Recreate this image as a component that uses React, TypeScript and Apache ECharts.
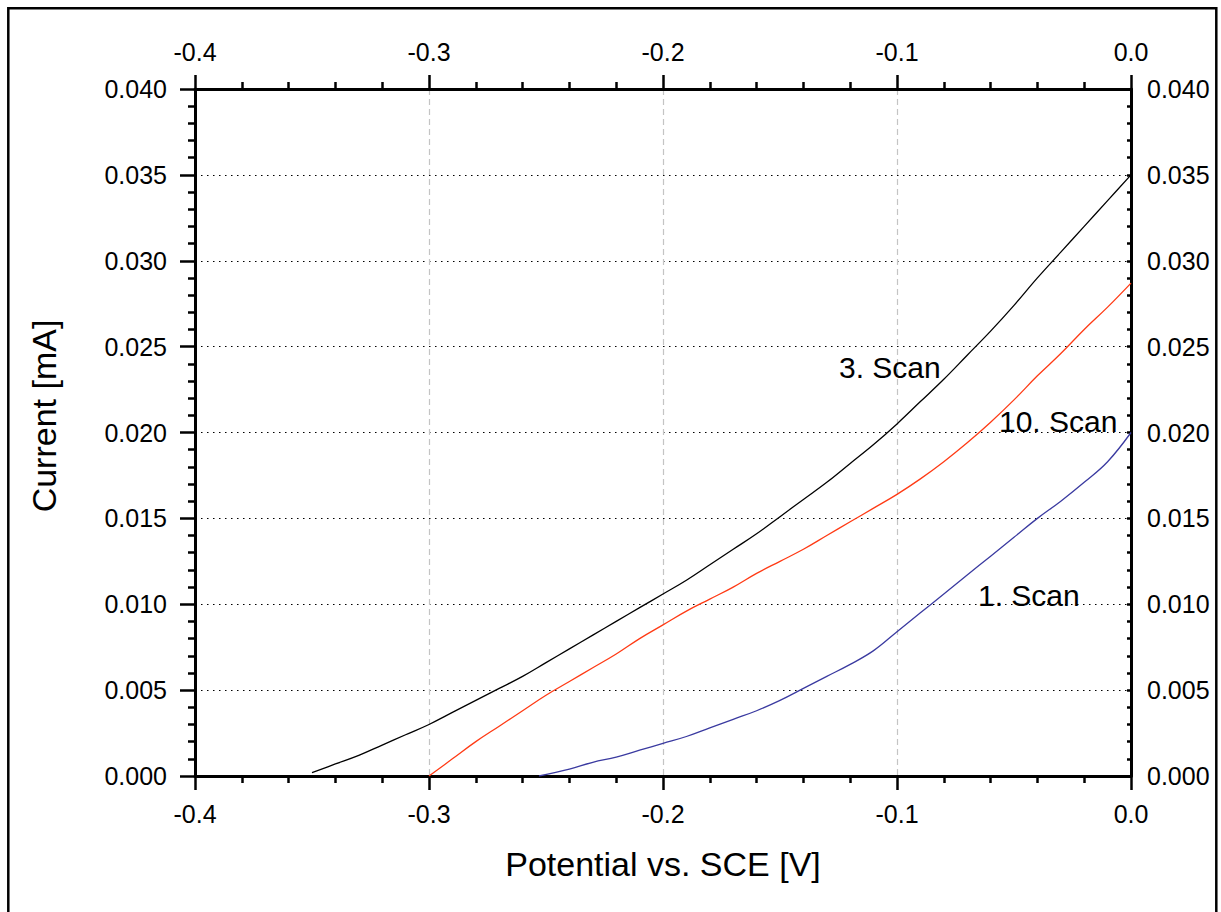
import React, { useEffect, useRef } from "react";
import * as echarts from "echarts";

// 3. Scan (black)
const scan3X = [-0.35, -0.34, -0.33, -0.32, -0.31, -0.3, -0.29, -0.28, -0.27, -0.26, -0.25, -0.24, -0.23, -0.22, -0.21, -0.2, -0.19, -0.18, -0.17, -0.16, -0.15, -0.14, -0.13, -0.12, -0.11, -0.1, -0.09, -0.08, -0.07, -0.06, -0.05, -0.04, -0.03, -0.02, -0.01, 0.0];
const scan3Y = [0.0002, 0.0007, 0.0012, 0.0018, 0.0024, 0.003, 0.0037, 0.0044, 0.0051, 0.0058, 0.0066, 0.0074, 0.0082, 0.009, 0.0098, 0.0106, 0.0114, 0.0123, 0.0132, 0.0141, 0.0151, 0.0161, 0.0171, 0.0182, 0.0193, 0.0205, 0.0218, 0.0231, 0.0245, 0.0259, 0.0274, 0.029, 0.0305, 0.032, 0.0335, 0.035];

// 10. Scan (red)
const scan10X = [-0.3, -0.29, -0.28, -0.27, -0.26, -0.25, -0.24, -0.23, -0.22, -0.21, -0.2, -0.19, -0.18, -0.17, -0.16, -0.15, -0.14, -0.13, -0.12, -0.11, -0.1, -0.09, -0.08, -0.07, -0.06, -0.05, -0.04, -0.03, -0.02, -0.01, 0.0];
const scan10Y = [0.0, 0.001, 0.002, 0.0029, 0.0038, 0.0047, 0.0055, 0.0063, 0.0071, 0.008, 0.0088, 0.0096, 0.0103, 0.011, 0.0118, 0.0125, 0.0132, 0.014, 0.0148, 0.0156, 0.0164, 0.0173, 0.0183, 0.0194, 0.0206, 0.0219, 0.0233, 0.0246, 0.026, 0.0273, 0.0287];

// 1. Scan (blue)
const scan1X = [-0.253, -0.24, -0.23, -0.22, -0.21, -0.2, -0.19, -0.18, -0.17, -0.16, -0.15, -0.14, -0.13, -0.12, -0.11, -0.1, -0.09, -0.08, -0.07, -0.06, -0.05, -0.04, -0.03, -0.02, -0.01, 0.0];
const scan1Y = [0.0, 0.0004, 0.0008, 0.0011, 0.0015, 0.0019, 0.0023, 0.0028, 0.0033, 0.0038, 0.0044, 0.0051, 0.0058, 0.0065, 0.0073, 0.0084, 0.0095, 0.0106, 0.0117, 0.0128, 0.0139, 0.015, 0.016, 0.0171, 0.0183, 0.02];

const seriesNames = ["3. Scan", "10. Scan", "1. Scan"];
const xTitle = "Potential vs. SCE [V]";
const yTitle = "Current [mA]";

const pairs = (xs: number[], ys: number[]) => xs.map((x, i) => [x, ys[i]]);

const FONT = "'Liberation Sans', Arial, Helvetica, sans-serif";

export default function App() {
  const ref = useRef<HTMLDivElement>(null);
  useEffect(() => {
    if (!ref.current) return;
    const chart = echarts.init(ref.current, null, { renderer: "svg" });
    const axisLine = { show: true, onZero: false, lineStyle: { color: "#000", width: 3 } };
    const labelStyle = { color: "#000", fontSize: 25, fontFamily: FONT };
    const xBase = {
      type: "value" as const,
      min: -0.4,
      max: 0,
      interval: 0.1,
      axisLine,
      minorTick: { show: true, splitNumber: 5, length: 7, lineStyle: { color: "#000", width: 2.5 } },
      axisTick: { show: true, length: 14, lineStyle: { color: "#000", width: 2.5 } },
    };
    const yBase = {
      type: "value" as const,
      min: 0,
      max: 0.04,
      interval: 0.005,
      axisLine,
    };
    chart.setOption({
      animation: false,
      backgroundColor: "#fff",
      grid: { left: 195, top: 89, width: 936, height: 687, containLabel: false },
      xAxis: [
        {
          ...xBase,
          position: "bottom",
          axisLabel: { ...labelStyle, margin: 25, formatter: (v: number) => v.toFixed(1) },
          splitLine: { show: true, lineStyle: { color: "#c4c4c4", width: 1.2, type: [6, 4] } },
        },
        {
          ...xBase,
          position: "top",
          axisLabel: { ...labelStyle, margin: 25, formatter: (v: number) => v.toFixed(1) },
          splitLine: { show: false },
        },
      ],
      yAxis: [
        {
          ...yBase,
          position: "left",
          axisTick: { show: true, length: 15, lineStyle: { color: "#000", width: 2.5 } },
          minorTick: { show: true, splitNumber: 5, length: 7, lineStyle: { color: "#000", width: 2.5 } },
          axisLabel: { ...labelStyle, margin: 28, formatter: (v: number) => v.toFixed(3) },
          splitLine: { show: true, lineStyle: { color: "#000", width: 1.2, type: [1.5, 4.5] } },
        },
        {
          ...yBase,
          position: "right",
          axisTick: { show: true, inside: true, length: 4, lineStyle: { color: "#000", width: 2.5 } },
          minorTick: { show: true, splitNumber: 5, length: 4, lineStyle: { color: "#000", width: 2.5 } },
          axisLabel: { ...labelStyle, margin: 16, formatter: (v: number) => v.toFixed(3) },
          splitLine: { show: false },
        },
      ],
      series: [
        {
          name: seriesNames[0],
          type: "line",
          data: pairs(scan3X, scan3Y),
          showSymbol: false,
          smooth: 0.4,
          lineStyle: { color: "#000000", width: 1.3 },
          z: 3,
        },
        {
          name: seriesNames[1],
          type: "line",
          data: pairs(scan10X, scan10Y),
          showSymbol: false,
          smooth: 0.4,
          lineStyle: { color: "#ff3a14", width: 1.3 },
          z: 3,
        },
        {
          name: seriesNames[2],
          type: "line",
          data: pairs(scan1X, scan1Y),
          showSymbol: false,
          smooth: 0.4,
          lineStyle: { color: "#3a3aa0", width: 1.3 },
          z: 3,
        },
      ],
      graphic: [
        {
          type: "rect",
          shape: { x: 8.3, y: 8.3, width: 1208, height: 1000 },
          style: { fill: "none", stroke: "#000", lineWidth: 2.5 },
          silent: true,
        },
        {
          type: "text",
          x: 663,
          y: 864,
          style: { text: xTitle, fill: "#000", fontSize: 34, fontFamily: FONT, align: "center", verticalAlign: "middle" },
        },
        {
          type: "text",
          x: 44,
          y: 416,
          rotation: Math.PI / 2,
          style: { text: yTitle, fill: "#000", fontSize: 34, fontFamily: FONT, align: "center", verticalAlign: "middle" },
        },
        {
          type: "text",
          x: 839,
          y: 367,
          style: { text: seriesNames[0], fill: "#000", fontSize: 30, fontFamily: FONT, align: "left", verticalAlign: "middle" },
          z: 10,
        },
        {
          type: "text",
          x: 999,
          y: 421.5,
          style: { text: seriesNames[1], fill: "#000", fontSize: 30, fontFamily: FONT, align: "left", verticalAlign: "middle" },
          z: 10,
        },
        {
          type: "text",
          x: 978,
          y: 595,
          style: { text: seriesNames[2], fill: "#000", fontSize: 30, fontFamily: FONT, align: "left", verticalAlign: "middle" },
          z: 10,
        },
      ],
    });
    return () => chart.dispose();
  }, []);
  return (
    <div
      ref={ref}
      style={{ position: "fixed", left: 0, top: 0, width: 1221, height: 912 }}
    />
  );
}
